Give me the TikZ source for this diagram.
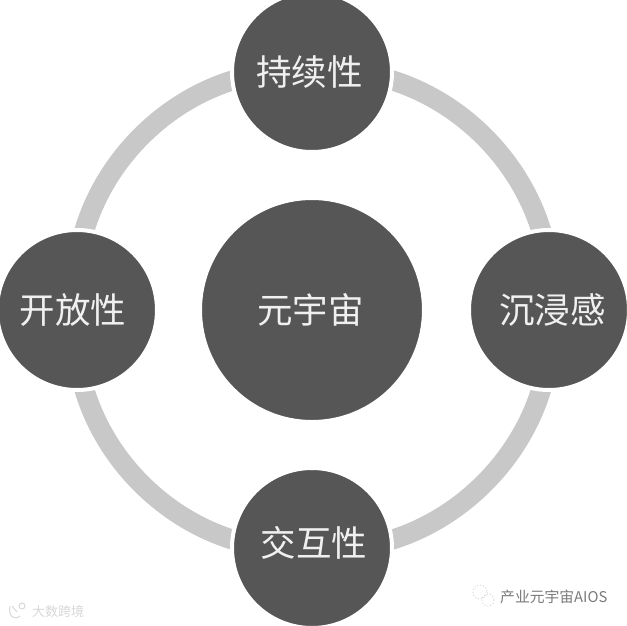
\documentclass[tikz,border=0pt]{standalone}
\usepackage{fontspec}
\usetikzlibrary{backgrounds}
\newfontfamily\cjk{Noto Sans CJK SC}
\definecolor{disc}{HTML}{565656}
\definecolor{ringc}{HTML}{C8C8C8}
\definecolor{marktext}{HTML}{7A7A7A}
\definecolor{markfaint}{HTML}{D8D8D8}
\newcommand\placed[3]{\makebox[0pt]{\hspace*{#1}\raisebox{#2}[0pt][0pt]{#3}}}
\tikzset{
  x=1pt,y=-1pt,
  disc/.style={circle,fill=disc,draw=white,line width=4pt,inner sep=0pt,minimum size=#1,text=white!94!black,font=\cjk\fontsize{35.5}{36}\selectfont},
  ringarc/.style={draw=ringc,line width=20pt,bend left=51},
  wm/.style={inner sep=0pt,anchor=west},
}
\begin{document}
\begin{tikzpicture}
\useasboundingbox (0,0) rectangle (627,625);
\node[disc=224pt] (centre) at (312,310) {\placed{-3pt}{-13pt}{元宇宙}};
\node[disc=160pt] (top) at (312,72) {\placed{-5pt}{-13pt}{持续性}};
\node[disc=160pt] (right) at (549,310) {\placed{7pt}{-13pt}{沉浸感}};
\node[disc=160pt] (bottom) at (312,548) {\placed{4pt}{-8pt}{交互性}};
\node[disc=160pt] (left) at (77,310) {\placed{-8pt}{-13pt}{开放性}};
\begin{scope}[on background layer]
\fill[white] (0,0) rectangle (627,625);
\draw[ringarc] (top.center) to (right.center);
\draw[ringarc] (right.center) to (bottom.center);
\draw[ringarc] (bottom.center) to (left.center);
\draw[ringarc] (left.center) to (top.center);
\end{scope}
% watermarks
\node[wm,text=markfaint,font=\cjk\fontsize{13}{13}\selectfont] (mark1) at (32,612) {大数跨境};
\node[wm,text=marktext,font=\cjk\fontsize{14.8}{15}\selectfont] (mark2) at (500,597) {产业元宇宙AIOS};
\begin{scope}[draw=markfaint,line width=1pt]
\draw (10,606) .. controls (8,616) and (14,621) .. (20,616);
\draw (12,606) -- (17,612);
\draw (22,606) circle (3);
\end{scope}
\begin{scope}[draw=markfaint,line width=1pt,dotted]
\draw (480,592) circle (7);
\draw (488,600) circle (6);
\end{scope}
\end{tikzpicture}
\end{document}
